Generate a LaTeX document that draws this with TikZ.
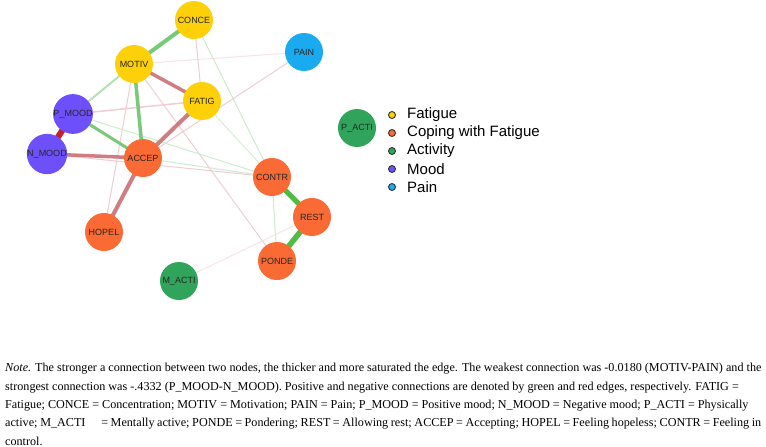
\documentclass[tikz,border=0pt]{standalone}
\usepackage{fontspec}
\setmainfont{Liberation Serif}
\setsansfont{Liberation Sans}
\pgfdeclarelayer{background}
\pgfsetlayers{background,main}
\definecolor{cY}{RGB}{253,208,10}
\definecolor{cO}{RGB}{250,106,52}
\definecolor{cG}{RGB}{48,164,90}
\definecolor{cP}{RGB}{110,80,250}
\definecolor{cB}{RGB}{26,170,240}
\definecolor{eG}{RGB}{120,202,120}
\definecolor{eGs}{RGB}{80,188,70}
\definecolor{eR}{RGB}{208,125,130}
\definecolor{eRd}{RGB}{200,32,42}
\definecolor{fR}{RGB}{240,205,210}
\definecolor{fG}{RGB}{205,236,205}
\definecolor{fRv}{RGB}{248,228,230}
\begin{document}
\begin{tikzpicture}[x=1pt,y=-1pt,
  nd/.style={circle,minimum size=38pt,inner sep=0pt,font=\sffamily\fontsize{9}{10}\selectfont,text=black!85},
  yel/.style={nd,fill=cY},
  ora/.style={nd,fill=cO},
  gre/.style={nd,fill=cG},
  pur/.style={nd,fill=cP},
  blu/.style={nd,fill=cB},
  ldot/.style={circle,minimum size=7pt,inner sep=0pt,draw=black!80,line width=0.9pt},
  ltxt/.style={anchor=west,inner sep=0pt,font=\sffamily\fontsize{15}{17}\selectfont},
  note/.style={anchor=west,inner sep=0pt,font=\fontsize{12.15}{14}\selectfont}]
\useasboundingbox (0,0) rectangle (766,447);
% nodes
\node[yel] (CONCE) at (194,20) {CONCE};
\node[yel] (MOTIV) at (134,64) {MOTIV};
\node[blu] (PAIN) at (304,52) {PAIN};
\node[yel] (FATIG) at (202,101) {FATIG};
\node[pur] (PMOOD) at (73,114) {P\_MOOD};
\node[pur] (NMOOD) at (47,154) {N\_MOOD};
\node[ora] (ACCEP) at (143,158) {ACCEP};
\node[ora] (CONTR) at (272,177) {CONTR};
\node[gre] (PACTI) at (357,128) {P\_ACTI};
\node[ora] (REST) at (312,217) {REST};
\node[ora] (PONDE) at (277,261) {PONDE};
\node[ora] (HOPEL) at (104,232) {HOPEL};
\node[gre] (MACTI) at (179,281) {M\_ACTI};
% edges
\begin{pgfonlayer}{background}
\fill[white] (0,0) rectangle (766,447);
\draw[fRv,line width=1pt] (MOTIV.center) -- (PAIN.center);
\draw[fR,line width=1pt] (CONCE.center) -- (FATIG.center);
\draw[fG,line width=1pt] (CONCE.center) -- (CONTR.center);
\draw[fR,line width=1pt] (MOTIV.center) -- (HOPEL.center);
\draw[fR,line width=1pt] (MOTIV.center) -- (PONDE.center);
\draw[fR,line width=1pt] (PAIN.center) -- (ACCEP.center);
\draw[fR,line width=1.5pt] (PMOOD.center) -- (FATIG.center);
\draw[fG,line width=1pt] (PMOOD.center) -- (CONTR.center);
\draw[fR,line width=1pt] (NMOOD.center) -- (CONTR.center);
\draw[fG,line width=1pt] (ACCEP.center) -- (CONTR.center);
\draw[fG,line width=0.8pt] (FATIG.center) -- (CONTR.center);
\draw[fG,line width=1pt] (CONTR.center) -- (PONDE.center);
\draw[fRv,line width=1pt] (REST.center) -- (MACTI.center);
\draw[fG!70!eG,line width=2pt] (MOTIV.center) -- (PMOOD.center);
\draw[eG,line width=4pt] (CONCE.center) -- (MOTIV.center);
\draw[eR,line width=3.5pt] (MOTIV.center) -- (FATIG.center);
\draw[eG,line width=3.5pt] (MOTIV.center) -- (ACCEP.center);
\draw[eR,line width=4pt] (FATIG.center) -- (ACCEP.center);
\draw[eRd,line width=6pt] (PMOOD.center) -- (NMOOD.center);
\draw[eG,line width=3pt] (PMOOD.center) -- (ACCEP.center);
\draw[eR,line width=3.5pt] (NMOOD.center) -- (ACCEP.center);
\draw[eR,line width=4pt] (ACCEP.center) -- (HOPEL.center);
\draw[eGs,line width=5pt] (CONTR.center) -- (REST.center);
\draw[eGs,line width=5.5pt] (REST.center) -- (PONDE.center);
\end{pgfonlayer}
% legend
\node[ldot,fill=cY] (l1) at (392,115) {};
\node[ldot,fill=cO] (l2) at (392,133) {};
\node[ldot,fill=cG] (l3) at (392,151) {};
\node[ldot,fill=cP] (l4) at (392,169) {};
\node[ldot,fill=cB] (l5) at (392,187) {};
\node[ltxt] (t1) at (407,115) {Fatigue};
\node[ltxt] (t2) at (407,133) {Coping with Fatigue};
\node[ltxt] (t3) at (407,151) {Activity};
\node[ltxt] (t4) at (407,169) {Mood};
\node[ltxt] (t5) at (407,187) {Pain};
% note
\node[note] (n1) at (5,369) {\textit{Note.} The stronger a connection between two nodes, the thicker and more saturated the edge. The weakest connection was -0.0180 (MOTIV-PAIN) and the};
\node[note] (n2) at (5,388) {strongest connection was -.4332 (P\_MOOD-N\_MOOD). Positive and negative connections are denoted by green and red edges, respectively. FATIG =};
\node[note] (n3) at (5,406) {Fatigue; CONCE = Concentration; MOTIV = Motivation; PAIN = Pain; P\_MOOD = Positive mood; N\_MOOD = Negative mood; P\_ACTI = Physically};
\node[note] (n4) at (5,424) {\hbox to 756pt{active; M\_ACTI\hspace{1.3em}= Mentally active; PONDE = Pondering; REST = Allowing rest; ACCEP = Accepting; HOPEL = Feeling hopeless; CONTR = Feeling in}};
\node[note] (n5) at (5,441) {control.};
\end{tikzpicture}
\end{document}
